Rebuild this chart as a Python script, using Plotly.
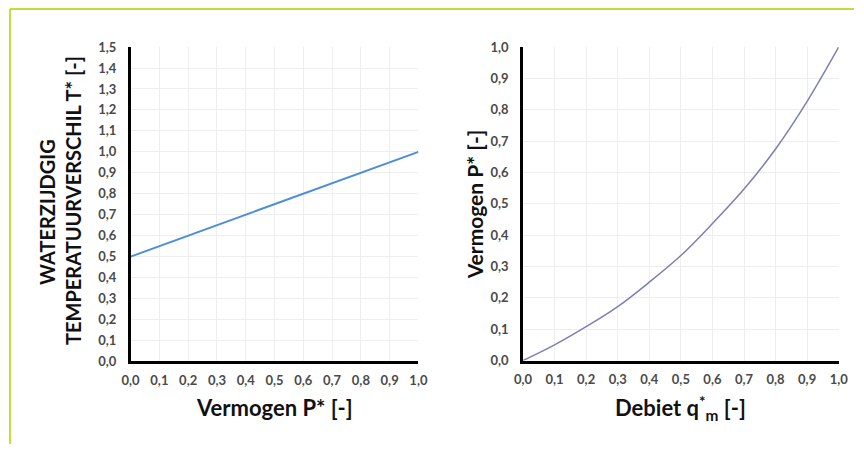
import plotly.graph_objects as go

# ---- data ----
p_left = [0.0, 0.1, 0.2, 0.3, 0.4, 0.5, 0.6, 0.7, 0.8, 0.9, 1.0]
t_left = [0.50, 0.55, 0.60, 0.65, 0.70, 0.75, 0.80, 0.85, 0.90, 0.95, 1.00]

q_right = [0.0, 0.1, 0.2, 0.3, 0.4, 0.5, 0.6, 0.7, 0.8, 0.9, 1.0]
p_right = [0.0, 0.05, 0.108, 0.172, 0.25, 0.335, 0.437, 0.547, 0.675, 0.827, 1.0]

x_ticks = [0.0, 0.1, 0.2, 0.3, 0.4, 0.5, 0.6, 0.7, 0.8, 0.9, 1.0]
x_ticktext = ["0,0", "0,1", "0,2", "0,3", "0,4", "0,5", "0,6", "0,7", "0,8", "0,9", "1,0"]
yl_ticks = [0.0, 0.1, 0.2, 0.3, 0.4, 0.5, 0.6, 0.7, 0.8, 0.9, 1.0, 1.1, 1.2, 1.3, 1.4, 1.5]
yl_ticktext = ["0,0", "0,1", "0,2", "0,3", "0,4", "0,5", "0,6", "0,7", "0,8", "0,9",
               "1,0", "1,1", "1,2", "1,3", "1,4", "1,5"]
yr_ticks = x_ticks
yr_ticktext = x_ticktext

W, H = 864, 452
FONT = "Lato"
TICKCOL = "#4a4a4a"
GRID = "#eeeeee"


def fx(px):  # target pixel -> paper x
    return (px - 7.9) / 0.982 / W


def fy(py):  # target pixel -> paper y
    return 1 - (py - 7.6) / 0.966 / H


fig = go.Figure()
fig.add_trace(go.Scatter(x=p_left, y=t_left, mode="lines", xaxis="x", yaxis="y",
                         line=dict(color="#4a8fd8", width=2), showlegend=False))
fig.add_trace(go.Scatter(x=q_right, y=p_right, mode="lines", xaxis="x2", yaxis="y2",
                         line=dict(color="#7d7fb3", width=1.5, shape="spline"), showlegend=False))

tickfont = dict(family=FONT, size=13, color=TICKCOL, weight="bold")


def xax(domain, anchor):
    return dict(domain=domain, anchor=anchor, range=[0, 1], tickvals=x_ticks, ticktext=x_ticktext,
                showline=True, linecolor="#000000", linewidth=2.5, showgrid=True, gridcolor=GRID,
                zeroline=False, ticks="", ticklabelstandoff=5, tickfont=tickfont, fixedrange=True)


def yax(domain, anchor, rng, tv, tt):
    return dict(domain=domain, anchor=anchor, range=rng, tickvals=tv, ticktext=tt,
                showline=True, linecolor="#000000", linewidth=2.5, showgrid=True, gridcolor=GRID,
                zeroline=False, ticks="", ticklabelstandoff=9, tickfont=tickfont, fixedrange=True)


fig.update_layout(
    width=W, height=H,
    margin=dict(l=0, r=0, t=0, b=0),
    paper_bgcolor="white", plot_bgcolor="white",
    xaxis=xax([fx(130), fx(419)], "y"),
    yaxis=yax([fy(361.5), fy(46.7)], "x", [0, 1.5], yl_ticks, yl_ticktext),
    xaxis2=xax([fx(524), fx(841)], "y2"),
    yaxis2=yax([fy(360.7), fy(46.7)], "x2", [0, 1.0], yr_ticks, yr_ticktext),
    font=dict(family=FONT, color="#111111"),
)

ann = [
    dict(text="<b>Vermogen P* [-]</b>", x=fx(274), y=fy(408), size=22),
    dict(text="<b>Debiet q<sup>*</sup><sub>m</sub> [-]</b>", x=fx(682), y=fy(408), size=22),
    dict(text="<b>WATERZIJDGIG</b>", x=fx(46), y=fy(212), size=20, textangle=-90),
    dict(text="<b>TEMPERATUURVERSCHIL T* [-]</b>", x=fx(72), y=fy(200), size=20, textangle=-90),
    dict(text="<b>Vermogen P* [-]</b>", x=fx(475), y=fy(204), size=21, textangle=-90),
]
for a in ann:
    size = a.pop("size")
    fig.add_annotation(xref="paper", yref="paper", xanchor="center", yanchor="middle",
                       showarrow=False, font=dict(family=FONT, size=size, color="#111111"), **a)

# decorative frame (top and left edges)
fig.add_shape(type="line", xref="paper", yref="paper", x0=1 / W, x1=1, y0=1 - 1 / H, y1=1 - 1 / H,
              line=dict(color="#c6dc3a", width=2))
fig.add_shape(type="line", xref="paper", yref="paper", x0=1 / W, x1=1 / W, y0=0, y1=1 - 1 / H,
              line=dict(color="#c6dc3a", width=2))

fig.write_html("out.html", config=dict(displayModeBar=False),
               post_script="document.body.style.margin='0';document.body.style.overflow='hidden';")
